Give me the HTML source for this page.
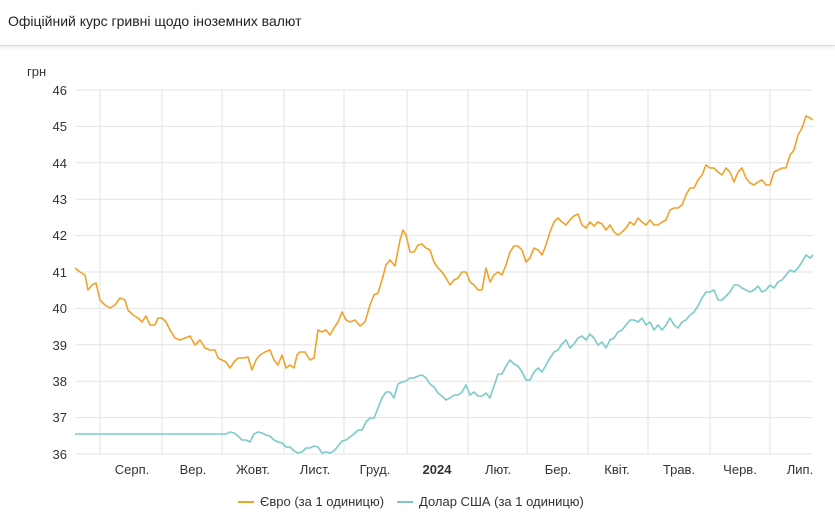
<!DOCTYPE html>
<html><head><meta charset="utf-8"><style>
body{margin:0;width:835px;height:520px;background:#fff;overflow:hidden;font-family:"Liberation Sans",sans-serif}
.hdr{position:absolute;left:0;top:0;width:835px;height:45px;border-bottom:1px solid #ddd;box-shadow:0 2px 3px rgba(0,0,0,.08)}
.hdr span{position:absolute;left:8px;top:13px;font-size:14px;color:#222}
</style></head><body>
<div class="hdr"><span>Офіційний курс гривні щодо іноземних валют</span></div>
<svg width="835" height="520" style="position:absolute;left:0;top:0" font-family="Liberation Sans, sans-serif">
<g stroke="#e3e3e3" stroke-width="1">
<line x1="75" x2="813" y1="90" y2="90"/><line x1="75" x2="813" y1="126.4" y2="126.4"/><line x1="75" x2="813" y1="162.8" y2="162.8"/><line x1="75" x2="813" y1="199.2" y2="199.2"/><line x1="75" x2="813" y1="235.6" y2="235.6"/><line x1="75" x2="813" y1="272" y2="272"/><line x1="75" x2="813" y1="308.4" y2="308.4"/><line x1="75" x2="813" y1="344.8" y2="344.8"/><line x1="75" x2="813" y1="381.2" y2="381.2"/><line x1="75" x2="813" y1="417.6" y2="417.6"/><line x1="75" x2="813" y1="454" y2="454"/>
<line x1="100" x2="100" y1="90" y2="454"/><line x1="162" x2="162" y1="90" y2="454"/><line x1="222" x2="222" y1="90" y2="454"/><line x1="284" x2="284" y1="90" y2="454"/><line x1="344" x2="344" y1="90" y2="454"/><line x1="407" x2="407" y1="90" y2="454"/><line x1="468" x2="468" y1="90" y2="454"/><line x1="527" x2="527" y1="90" y2="454"/><line x1="588" x2="588" y1="90" y2="454"/><line x1="648" x2="648" y1="90" y2="454"/><line x1="710" x2="710" y1="90" y2="454"/><line x1="770" x2="770" y1="90" y2="454"/>
</g>
<g font-size="13" fill="#333" text-anchor="end">
<text x="67" y="95">46</text><text x="67" y="131">45</text><text x="67" y="168">44</text><text x="67" y="204">43</text><text x="67" y="240">42</text><text x="67" y="277">41</text><text x="67" y="313">40</text><text x="67" y="350">39</text><text x="67" y="386">38</text><text x="67" y="422">37</text><text x="67" y="459">36</text>
</g>
<text x="27" y="76" font-size="13" fill="#333">грн</text>
<g font-size="13" fill="#333" text-anchor="middle">
<text x="132" y="474">Серп.</text><text x="193" y="474">Вер.</text><text x="253" y="474">Жовт.</text><text x="315" y="474">Лист.</text><text x="375" y="474">Груд.</text><text x="437" y="474" font-weight="bold">2024</text><text x="498" y="474">Лют.</text><text x="558" y="474">Бер.</text><text x="617" y="474">Квіт.</text><text x="679" y="474">Трав.</text><text x="740" y="474">Черв.</text><text x="800" y="474">Лип.</text>
</g>
<polyline fill="none" stroke="#f0a22a" stroke-width="1.6" stroke-linejoin="round" points="75,268 80,272 85,275 88,290 92,285 96,283 100,300 105,305 110,308 115,305 120,298 125,300 128,310 133,315 138,318 142,322 146,316 150,325 155,325 158,318 162,318 166,322 170,330 175,338 180,340 185,338 190,336 195,345 200,340 205,348 210,350 215,350 218,358 222,360 226,362 230,368 234,362 238,358 243,358 248,357 252,370 256,360 260,355 265,352 270,350 274,360 278,365 282,355 286,368 290,365 294,368 297,355 300,352 305,352 310,360 314,358 318,330 322,332 326,330 330,335 334,328 338,322 342,312 346,320 350,322 355,320 360,326 365,322 370,305 374,295 378,293 382,280 386,265 390,260 395,266 400,240 403,230 406,235 410,252 414,252 418,245 422,244 426,248 430,250 434,262 438,268 442,272 446,278 450,285 454,280 458,278 462,272 466,272 470,282 474,285 478,290 482,290 486,268 490,282 494,275 498,272 502,275 506,265 510,252 514,246 518,246 522,250 526,262 530,258 534,248 538,250 542,255 546,245 550,232 554,222 558,218 562,222 566,225 570,220 574,216 578,214 582,225 586,228 590,222 594,226 598,222 602,224 606,230 610,225 614,232 618,235 622,232 626,228 630,222 634,225 638,218 642,222 646,225 650,220 654,225 658,225 662,222 666,220 670,210 674,208 678,208 682,205 686,195 690,188 694,188 698,180 702,175 706,165 710,168 714,168 718,172 722,175 726,168 730,172 734,182 738,172 742,168 746,178 750,183 754,185 758,182 762,180 766,185 770,185 774,172 778,170 782,168 786,168 790,155 794,150 798,135 802,128 806,116 810,118 813,120"/>
<polyline fill="none" stroke="#7ccaca" stroke-width="1.6" stroke-linejoin="round" points="75,434 226,434 230,432 234,433 238,436 242,440 246,440 250,442 254,434 258,432 262,433 266,435 270,436 274,440 278,442 282,443 286,447 290,447 294,451 298,453 302,452 306,448 310,448 314,446 318,447 322,453 326,452 330,453 334,451 338,446 342,441 346,440 350,437 354,434 358,430 362,430 366,422 370,418 374,418 378,408 382,398 386,392 390,392 394,398 398,384 402,382 406,381 410,378 414,378 418,376 422,375 426,378 430,384 434,387 438,393 442,396 446,400 450,398 454,395 458,395 462,392 466,385 470,395 474,392 478,396 482,396 486,393 490,398 494,386 498,374 502,374 506,366 510,360 514,364 518,366 522,372 526,380 530,380 534,372 538,368 542,372 546,365 550,358 554,352 558,350 562,344 566,340 570,348 574,344 578,338 582,336 586,340 590,334 594,338 598,345 602,342 606,348 610,340 614,338 618,332 622,330 626,325 630,320 634,320 638,322 642,318 646,325 650,322 654,330 658,325 662,330 666,325 670,318 674,325 678,328 682,322 686,320 690,315 694,312 698,306 702,298 706,292 710,292 714,290 718,300 722,300 726,296 730,292 734,285 738,285 742,288 746,290 750,292 754,290 758,286 762,292 766,290 770,285 774,288 778,282 782,280 786,275 790,270 794,272 798,268 802,262 806,255 810,258 813,255"/>
<line x1="238" x2="254" y1="502" y2="502" stroke="#f0a22a" stroke-width="2"/>
<text x="260" y="506" font-size="13" fill="#333">Євро (за 1 одиницю)</text>
<line x1="397" x2="413" y1="502" y2="502" stroke="#7ccaca" stroke-width="2"/>
<text x="419" y="506" font-size="13" fill="#333">Долар США (за 1 одиницю)</text>
</svg>
</body></html>
